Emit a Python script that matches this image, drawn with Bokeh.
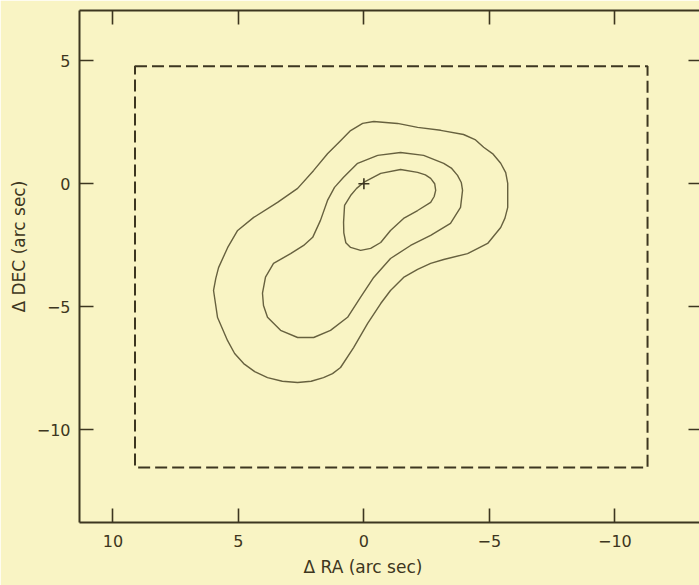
from bokeh.plotting import figure
from bokeh.models import Range1d, LinearAxis, FixedTicker, Title, CustomJSTickFormatter
from bokeh.embed import file_html
from bokeh.resources import INLINE

# ---- data (arc sec offsets) ----
ra_ticks = [10, 5, 0, -5, -10]
dec_ticks = [5, 0, -5, -10]
ra_tick_labels = {10: "10", 5: "5", 0: "0", -5: "\u22125", -10: "\u221210"}
dec_tick_labels = {5: "5", 0: "0", -5: "\u22125", -10: "\u221210"}

# field of view (dashed box)
box_ra_east = 9.12
box_ra_west = -11.30
box_dec_north = 4.77
box_dec_south = -11.53

# source position
src_ra = [0.0]
src_dec = [0.0]

# outer contour
outer_ra = [-0.39, -1.34, -2.14, -3.06, -3.97, -4.45, -4.77, -5.15, -5.45, -5.65, -5.73, -5.73, -5.62, -5.45,
            -4.93, -4.13, -3.18, -2.66, -2.14, -1.58, -1.06, -0.67, -0.15, 0.41,
            0.93, 1.25, 1.61, 2.10, 2.64, 3.25, 3.84, 4.35, 4.79, 5.15, 5.43, 5.83, 5.99, 5.90, 5.79, 5.43,
            5.03, 4.39, 3.44, 2.64, 2.00, 1.45, 0.93, 0.53, 0.05, -0.39]
outer_dec = [2.53, 2.45, 2.29, 2.17, 2.00, 1.78, 1.48, 1.20, 0.83, 0.45, 0.01, -0.96, -1.40, -1.78,
             -2.43, -2.84, -3.08, -3.24, -3.48, -3.81, -4.34, -4.87, -5.68, -6.66,
             -7.47, -7.72, -7.88, -8.03, -8.08, -8.03, -7.88, -7.64, -7.31, -6.90, -6.38, -5.44, -4.34, -3.85, -3.41, -2.60,
             -1.90, -1.37, -0.76, -0.19, 0.54, 1.22, 1.75, 2.16, 2.45, 2.53]

# middle contour
middle_ra = [-0.55, -1.46, -2.38, -3.18, -3.50, -3.73, -3.88, -3.93, -3.85, -3.45, -2.66, -1.86,
             -1.06, -0.39, 0.13, 0.65, 1.33, 2.00, 2.64, 3.32, 3.84, 4.00, 4.04,
             3.92, 3.60, 2.92, 2.40, 2.04, 1.73, 1.45, 1.17, 0.81, 0.25, -0.55]
middle_dec = [1.15, 1.27, 1.15, 0.83, 0.62, 0.34, 0.05, -0.27, -0.96, -1.61, -2.10, -2.51,
              -3.04, -3.81, -4.61, -5.43, -5.96, -6.25, -6.25, -5.96, -5.43, -4.95, -4.45,
              -3.80, -3.24, -2.84, -2.51, -2.18, -1.49, -0.68, -0.15, 0.26, 0.83, 1.15]

# inner contour
inner_ra = [0.01, -0.67, -1.46, -2.14, -2.45, -2.66, -2.82, -2.86, -2.80, -2.66, -2.14, -1.58, -1.06,
            -0.67, -0.27, 0.13, 0.53, 0.72, 0.80, 0.81, 0.77, 0.53, 0.29, 0.01]
inner_dec = [0.05, 0.42, 0.58, 0.46, 0.36, 0.22, 0.00, -0.27, -0.52, -0.76, -1.09, -1.41, -1.90,
             -2.39, -2.63, -2.71, -2.59, -2.40, -2.00, -1.57, -0.88, -0.48, -0.19, 0.05]

# axis extents
ra_start, ra_end = 11.33, -13.37
dec_start, dec_end = -13.77, 7.04

# ---- style ----
BG = "#f9f4c4"
INK = "#3d3620"
CONTOUR = "#67613f"
FONT = "DejaVu Sans"

p = figure(width=699, height=585, output_backend="svg", toolbar_location=None,
           x_range=Range1d(ra_start, ra_end), y_range=Range1d(dec_start, dec_end),
           x_axis_location=None, y_axis_location=None,
           min_border_left=79, min_border_right=0, min_border_top=10, min_border_bottom=63)
p.background_fill_color = BG
p.border_fill_color = BG
p.outline_line_color = None
p.xgrid.visible = False
p.ygrid.visible = False


def make_axis(ticks, labels, show_labels):
    ax = LinearAxis(ticker=FixedTicker(ticks=ticks))
    ax.axis_line_color = INK
    ax.axis_line_width = 2
    ax.major_tick_line_color = INK
    ax.major_tick_line_width = 1.6
    ax.major_tick_in = 14
    ax.major_tick_out = 0
    ax.minor_tick_line_color = None
    if show_labels:
        ax.major_label_overrides = labels
        ax.major_label_text_font = FONT
        ax.major_label_text_font_size = "16px"
        ax.major_label_text_color = INK
    else:
        ax.formatter = CustomJSTickFormatter(code="return ''")
        ax.major_label_text_font_size = "0px"
        ax.major_label_standoff = 0
    return ax


bottom = make_axis(ra_ticks, ra_tick_labels, True)
bottom.major_label_standoff = 12
p.add_layout(bottom, "below")

top = make_axis(ra_ticks, ra_tick_labels, False)
p.add_layout(top, "above")

left = make_axis(dec_ticks, dec_tick_labels, True)
left.major_label_standoff = 9
p.add_layout(left, "left")

right = make_axis(dec_ticks, dec_tick_labels, False)
right.axis_line_color = None
right.major_tick_in = 11
p.add_layout(right, "right")

# axis titles, placed off-centre as in the original figure
p.add_layout(Title(text="\u0394 RA (arc sec)", align="left", offset=224, vertical_align="top",
                   standoff=14, text_font=FONT, text_font_size="17px", text_font_style="normal",
                   text_color=INK), "below")
p.add_layout(Title(text="\u0394 DEC (arc sec)", align="left", offset=210, vertical_align="bottom",
                   standoff=10, text_font=FONT, text_font_size="17px", text_font_style="normal",
                   text_color=INK), "left")

# dashed field box
p.quad(left=[box_ra_east], right=[box_ra_west], top=[box_dec_north], bottom=[box_dec_south],
       fill_color=None, line_color=INK, line_width=2, line_dash="12 5")

# contours
for xs, ys in [(outer_ra, outer_dec), (middle_ra, middle_dec), (inner_ra, inner_dec)]:
    p.line(xs, ys, line_color=CONTOUR, line_width=1.4, line_join="round")

# source cross
p.scatter(src_ra, src_dec, marker="cross", size=11, line_color=INK, line_width=1.6)

open("out.html", "w").write(file_html(p, INLINE))
